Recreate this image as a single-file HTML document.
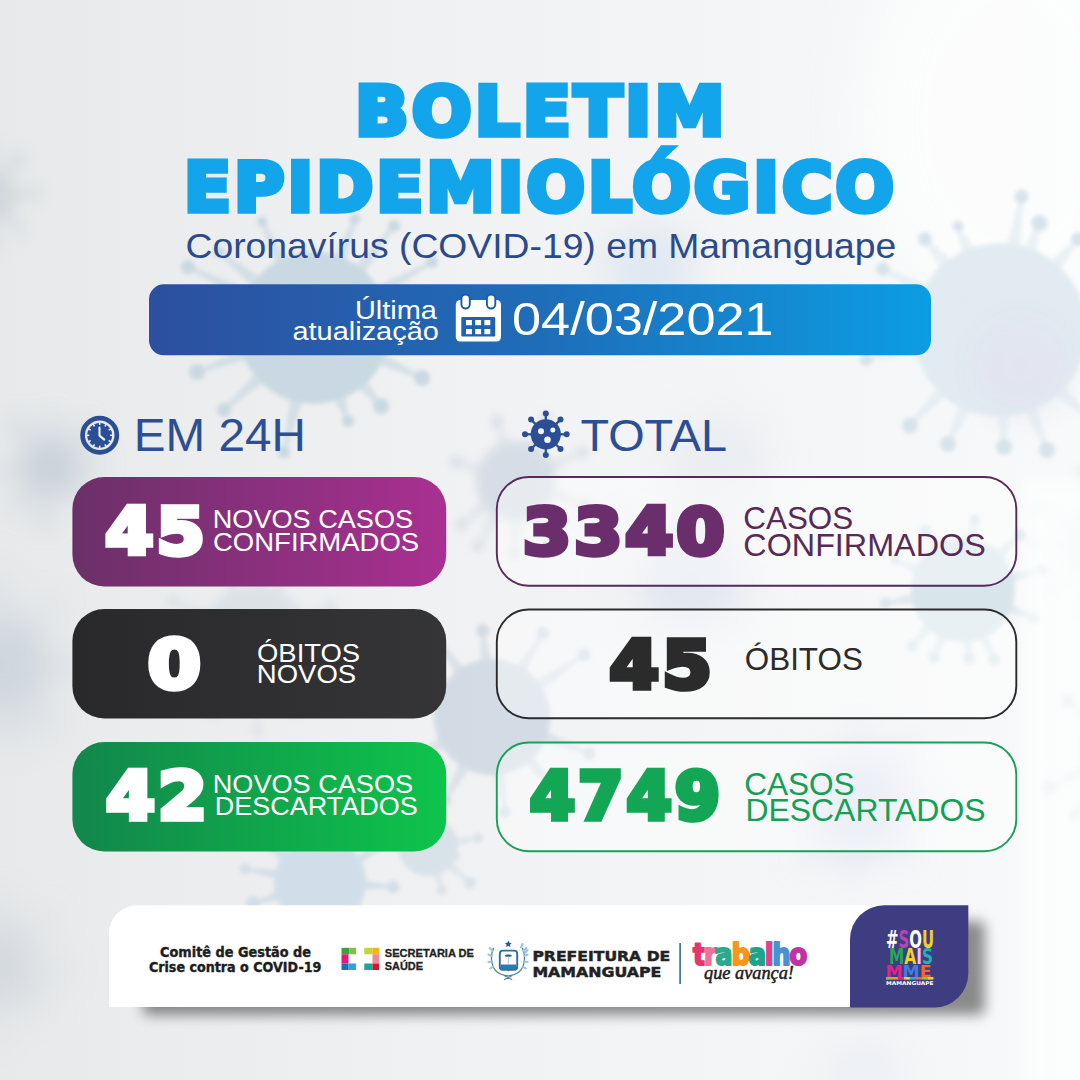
<!DOCTYPE html>
<html lang="pt-BR">
<head>
<meta charset="utf-8">
<title>Boletim Epidemiológico - Mamanguape</title>
<style>
html,body{margin:0;padding:0;background:#eef0f1;}
body{width:1080px;height:1080px;overflow:hidden;font-family:"Liberation Sans",sans-serif;}
svg{display:block}
</style>
</head>
<body>
<svg width="1080" height="1080" viewBox="0 0 1080 1080">
<defs>
<linearGradient id="bg" x1="0" y1="0" x2="1" y2="0"><stop offset="0" stop-color="#e7e9ea"/><stop offset="0.45" stop-color="#f1f2f3"/><stop offset="1" stop-color="#f8f9fa"/></linearGradient>
<linearGradient id="gdate" x1="0" y1="0" x2="1" y2="0"><stop offset="0" stop-color="#2c4f9f"/><stop offset="0.5" stop-color="#1f6db9"/><stop offset="1" stop-color="#0c9de2"/></linearGradient>
<linearGradient id="gpur" x1="0" y1="0" x2="1" y2="0"><stop offset="0" stop-color="#6b3068"/><stop offset="1" stop-color="#a93091"/></linearGradient>
<linearGradient id="gblk" x1="0" y1="0" x2="1" y2="0"><stop offset="0" stop-color="#29292b"/><stop offset="1" stop-color="#353537"/></linearGradient>
<linearGradient id="ggrn" x1="0" y1="0" x2="1" y2="0"><stop offset="0" stop-color="#12864b"/><stop offset="1" stop-color="#0ec44b"/></linearGradient>
<linearGradient id="gtrab" gradientUnits="userSpaceOnUse" x1="690" y1="0" x2="810" y2="0"><stop offset="0.0000" stop-color="#e8336d"/><stop offset="0.1167" stop-color="#e8336d"/><stop offset="0.1167" stop-color="#f0709a"/><stop offset="0.2117" stop-color="#f0709a"/><stop offset="0.2117" stop-color="#2aa98c"/><stop offset="0.3458" stop-color="#2aa98c"/><stop offset="0.3458" stop-color="#f7941d"/><stop offset="0.4892" stop-color="#f7941d"/><stop offset="0.4892" stop-color="#1fa38b"/><stop offset="0.6233" stop-color="#1fa38b"/><stop offset="0.6233" stop-color="#e23f8a"/><stop offset="0.6858" stop-color="#e23f8a"/><stop offset="0.6858" stop-color="#4a90d2"/><stop offset="0.8283" stop-color="#4a90d2"/><stop offset="0.8283" stop-color="#c233a1"/><stop offset="1.0000" stop-color="#c233a1"/></linearGradient>
<linearGradient id="gsou" gradientUnits="userSpaceOnUse" x1="884" y1="0" x2="936" y2="0"><stop offset="0.0000" stop-color="#ffffff"/><stop offset="0.2788" stop-color="#ffffff"/><stop offset="0.2788" stop-color="#b545b8"/><stop offset="0.4846" stop-color="#b545b8"/><stop offset="0.4846" stop-color="#ffffff"/><stop offset="0.7288" stop-color="#ffffff"/><stop offset="0.7288" stop-color="#f4d21f"/><stop offset="1.0000" stop-color="#f4d21f"/></linearGradient>
<linearGradient id="gmais" gradientUnits="userSpaceOnUse" x1="884" y1="0" x2="936" y2="0"><stop offset="0.0000" stop-color="#27a65a"/><stop offset="0.3904" stop-color="#27a65a"/><stop offset="0.3904" stop-color="#f4d21f"/><stop offset="0.6192" stop-color="#f4d21f"/><stop offset="0.6192" stop-color="#e9c6ee"/><stop offset="0.7288" stop-color="#e9c6ee"/><stop offset="0.7288" stop-color="#1fb0b8"/><stop offset="1.0000" stop-color="#1fb0b8"/></linearGradient>
<linearGradient id="gmme" gradientUnits="userSpaceOnUse" x1="884" y1="0" x2="936" y2="0"><stop offset="0.0000" stop-color="#e6228a"/><stop offset="0.3577" stop-color="#e6228a"/><stop offset="0.3577" stop-color="#3d7fe0"/><stop offset="0.6865" stop-color="#3d7fe0"/><stop offset="0.6865" stop-color="#f2662a"/><stop offset="1.0000" stop-color="#f2662a"/></linearGradient>
<filter id="b2" x="-30%" y="-30%" width="160%" height="160%"><feGaussianBlur stdDeviation="2"/></filter>
<filter id="b4" x="-30%" y="-30%" width="160%" height="160%"><feGaussianBlur stdDeviation="4"/></filter>
<filter id="b8" x="-40%" y="-40%" width="180%" height="180%"><feGaussianBlur stdDeviation="8"/></filter>
<filter id="b12" x="-50%" y="-50%" width="200%" height="200%"><feGaussianBlur stdDeviation="12"/></filter>
<filter id="b16" x="-50%" y="-50%" width="200%" height="200%"><feGaussianBlur stdDeviation="16"/></filter>
<filter id="b30" x="-80%" y="-80%" width="260%" height="260%"><feGaussianBlur stdDeviation="30"/></filter>
<filter id="sh" x="-20%" y="-50%" width="140%" height="200%"><feGaussianBlur stdDeviation="6.5"/></filter>
</defs>

<g id="background">
<rect width="1080" height="1080" fill="url(#bg)"/>
<g fill="#bcc6cf" opacity="0.5" filter="url(#b8)"><circle cx="-12" cy="196" r="28"/><path d="M13.2 198.2L33.0 194.2L32.9 192.2L12.7 190.6z"/><circle cx="32.9" cy="193.2" r="6.6"/><path d="M2.5 216.7L18.8 229.8L20.2 228.4L8.0 211.5z"/><circle cx="19.5" cy="229.1" r="5.8"/><path d="M-12.9 221.3L-7.5 243.2L-5.5 242.9L-5.3 220.4z"/><circle cx="-6.5" cy="243.1" r="6.3"/><path d="M-31.4 212.3L-44.9 231.9L-43.4 233.2L-25.7 217.3z"/><circle cx="-44.1" cy="232.5" r="6.9"/><path d="M-36.6 190.2L-56.2 191.4L-56.4 193.4L-37.2 197.8z"/><circle cx="-56.3" cy="192.4" r="7.4"/><path d="M-28.6 177.0L-46.3 165.7L-47.6 167.2L-33.5 182.8z"/><circle cx="-46.9" cy="166.5" r="8.0"/><path d="M-8.1 171.0L-10.7 149.4L-12.7 149.4L-15.7 171.0z"/><circle cx="-11.7" cy="149.4" r="7.5"/><path d="M6.7 179.0L18.2 160.3L16.6 159.0L0.8 174.2z"/><circle cx="17.4" cy="159.7" r="7.3"/></g>
<g fill="#bcc8d3" opacity="0.65" filter="url(#b12)"><circle cx="50" cy="467" r="30"/><path d="M77.2 469.1L94.9 465.2L94.8 463.2L76.7 461.5z"/><circle cx="94.8" cy="464.2" r="7.7"/><path d="M68.2 487.3L83.4 496.6L84.7 495.1L73.1 481.5z"/><circle cx="84.0" cy="495.8" r="7.7"/><path d="M43.5 493.5L43.9 517.8L45.9 518.0L51.1 494.2z"/><circle cx="44.9" cy="517.9" r="8.8"/><path d="M29.4 484.8L17.1 503.1L18.6 504.4L35.1 489.8z"/><circle cx="17.9" cy="503.8" r="7.3"/><path d="M22.8 465.3L5.1 469.5L5.3 471.5L23.4 472.9z"/><circle cx="5.2" cy="470.5" r="7.1"/><path d="M35.9 443.7L18.3 426.4L16.8 427.7L30.0 448.5z"/><circle cx="17.5" cy="427.1" r="9.0"/><path d="M55.7 440.3L54.3 421.4L52.3 421.3L48.2 439.8z"/><circle cx="53.3" cy="421.4" r="7.4"/><path d="M72.3 451.3L87.5 433.1L86.2 431.6L67.1 445.7z"/><circle cx="86.8" cy="432.3" r="9.1"/></g>
<g fill="#bfcad5" opacity="0.6" filter="url(#b16)"><circle cx="0" cy="665" r="48"/><path d="M44.8 670.9L73.8 668.4L73.8 666.0L45.1 661.8z"/><circle cx="73.8" cy="667.2" r="10.1"/><path d="M24.7 702.9L45.4 723.2L47.3 721.7L31.8 697.1z"/><circle cx="46.4" cy="722.4" r="10.5"/><path d="M0.5 710.2L6.8 735.4L9.2 735.2L9.6 709.2z"/><circle cx="8.0" cy="735.3" r="10.6"/><path d="M-36.0 692.3L-56.2 715.7L-54.5 717.4L-29.8 699.0z"/><circle cx="-55.4" cy="716.5" r="7.6"/><path d="M-45.0 660.8L-68.3 664.3L-68.3 666.7L-45.0 669.9z"/><circle cx="-68.3" cy="665.5" r="9.2"/><path d="M-28.0 629.5L-44.7 616.9L-46.5 618.6L-34.5 635.8z"/><circle cx="-45.6" cy="617.8" r="8.0"/><path d="M2.2 619.8L-2.8 589.2L-5.2 589.4L-6.9 620.3z"/><circle cx="-4.0" cy="589.3" r="10.0"/><path d="M32.6 633.6L49.1 609.0L47.3 607.4L25.6 627.7z"/><circle cx="48.2" cy="608.2" r="7.7"/></g>
<g fill="#c6ced6" opacity="0.55" filter="url(#b16)"><circle cx="-5" cy="965" r="40"/><path d="M31.6 971.4L58.3 970.5L58.5 968.5L32.2 963.8z"/><circle cx="58.4" cy="969.5" r="8.9"/><path d="M20.1 992.5L35.7 1002.6L37.0 1001.1L25.1 986.8z"/><circle cx="36.4" cy="1001.9" r="9.6"/><path d="M-8.5 1002.0L-5.6 1027.9L-3.6 1027.9L-0.9 1002.0z"/><circle cx="-4.6" cy="1027.9" r="8.5"/><path d="M-35.3 986.6L-49.3 1002.6L-48.0 1004.1L-30.3 992.3z"/><circle cx="-48.7" cy="1003.3" r="10.1"/><path d="M-41.7 959.2L-64.4 960.7L-64.5 962.7L-42.2 966.8z"/><circle cx="-64.4" cy="961.7" r="9.1"/><path d="M-27.2 935.2L-43.0 922.1L-44.5 923.4L-32.8 940.3z"/><circle cx="-43.7" cy="922.7" r="9.2"/><path d="M1.5 928.4L0.2 907.2L-1.8 907.1L-6.1 927.8z"/><circle cx="-0.8" cy="907.1" r="10.1"/><path d="M24.9 942.8L42.7 922.7L41.4 921.2L19.7 937.2z"/><circle cx="42.0" cy="922.0" r="8.4"/></g>
<g fill="#d3dbea" opacity="0.5" filter="url(#b16)"><circle cx="690" cy="580" r="50"/><path d="M737.2 582.8L759.2 578.3L759.1 575.8L736.8 573.3z"/><circle cx="759.1" cy="577.1" r="9.5"/><path d="M723.5 613.3L746.3 627.4L747.8 625.4L729.5 606.0z"/><circle cx="747.0" cy="626.4" r="8.5"/><path d="M690.3 627.2L696.5 652.9L699.0 652.7L699.7 626.2z"/><circle cx="697.8" cy="652.8" r="7.3"/><path d="M653.9 610.5L641.6 628.2L643.4 629.9L660.7 617.1z"/><circle cx="642.5" cy="629.0" r="7.5"/><path d="M642.9 576.1L613.2 580.1L613.2 582.6L643.1 585.6z"/><circle cx="613.2" cy="581.4" r="7.6"/><path d="M657.8 545.5L634.7 530.0L633.1 531.8L651.5 552.6z"/><circle cx="633.9" cy="530.9" r="10.6"/><path d="M695.6 533.1L692.6 508.1L690.1 508.0L686.1 532.9z"/><circle cx="691.3" cy="508.0" r="10.7"/><path d="M723.1 546.3L739.3 520.6L737.3 519.1L715.7 540.4z"/><circle cx="738.3" cy="519.8" r="8.2"/></g>
<g fill="#cdd5ea" opacity="0.55" filter="url(#b16)"><circle cx="860" cy="805" r="50"/><path d="M907.2 806.7L938.2 801.1L938.1 798.6L906.6 797.2z"/><circle cx="938.2" cy="799.9" r="7.7"/><path d="M888.0 843.0L905.0 856.6L906.9 854.9L895.1 836.6z"/><circle cx="906.0" cy="855.7" r="8.1"/><path d="M849.7 851.1L850.4 874.2L852.9 874.5L859.1 852.2z"/><circle cx="851.7" cy="874.4" r="9.5"/><path d="M823.7 835.2L808.3 856.0L810.1 857.7L830.5 841.9z"/><circle cx="809.2" cy="856.8" r="9.0"/><path d="M812.8 803.7L783.3 809.4L783.5 811.9L813.5 813.2z"/><circle cx="783.4" cy="810.7" r="7.5"/><path d="M827.9 770.4L810.0 759.3L808.3 761.2L821.6 777.5z"/><circle cx="809.2" cy="760.3" r="8.2"/><path d="M863.7 757.9L859.5 727.3L857.0 727.4L854.2 758.1z"/><circle cx="858.3" cy="727.4" r="8.6"/><path d="M893.7 771.9L905.9 751.6L904.0 750.0L886.4 765.8z"/><circle cx="905.0" cy="750.8" r="10.8"/></g>
<g fill="#cfdcee" opacity="0.5" filter="url(#b16)"><circle cx="650" cy="270" r="40"/><path d="M687.0 273.5L707.4 270.5L707.3 268.5L687.0 265.9z"/><circle cx="707.4" cy="269.5" r="6.8"/><path d="M670.9 300.8L684.0 312.1L685.5 310.8L676.7 295.9z"/><circle cx="684.7" cy="311.4" r="8.0"/><path d="M642.7 306.5L643.8 324.4L645.8 324.6L650.3 307.2z"/><circle cx="644.8" cy="324.5" r="8.2"/><path d="M620.5 292.7L609.8 306.6L611.2 308.1L625.7 298.2z"/><circle cx="610.5" cy="307.4" r="7.6"/><path d="M613.2 264.4L592.0 266.2L592.0 268.2L612.9 272.0z"/><circle cx="592.0" cy="267.2" r="8.7"/><path d="M624.2 243.2L607.8 232.9L606.5 234.5L619.3 249.0z"/><circle cx="607.2" cy="233.7" r="6.8"/><path d="M653.9 233.0L651.1 207.7L649.1 207.7L646.3 233.0z"/><circle cx="650.1" cy="207.7" r="8.3"/><path d="M680.3 248.5L693.9 232.9L692.6 231.4L675.3 242.8z"/><circle cx="693.2" cy="232.1" r="8.8"/></g>
<g fill="#d6dde8" opacity="0.3" filter="url(#b16)"><circle cx="720" cy="462" r="45"/><path d="M761.9 467.0L782.8 464.2L782.9 462.0L762.1 458.4z"/><circle cx="782.9" cy="463.1" r="8.2"/><path d="M748.9 492.8L769.3 506.3L770.8 504.6L754.5 486.3z"/><circle cx="770.1" cy="505.5" r="9.0"/><path d="M714.2 503.8L716.6 522.4L718.9 522.4L722.7 504.1z"/><circle cx="717.8" cy="522.4" r="8.1"/><path d="M688.4 490.0L677.7 506.3L679.3 507.8L694.7 495.8z"/><circle cx="678.5" cy="507.1" r="9.4"/><path d="M678.8 452.8L661.2 453.8L660.9 456.1L677.8 461.3z"/><circle cx="661.0" cy="454.9" r="9.2"/><path d="M694.1 428.6L677.8 416.0L676.1 417.5L687.9 434.5z"/><circle cx="677.0" cy="416.8" r="7.3"/><path d="M726.0 420.2L723.8 399.0L721.5 398.9L717.5 419.9z"/><circle cx="722.6" cy="398.9" r="8.6"/><path d="M753.7 436.6L765.0 421.9L763.4 420.3L747.9 430.3z"/><circle cx="764.2" cy="421.1" r="8.9"/></g>
<ellipse cx="1010" cy="120" rx="150" ry="200" fill="#ffffff" opacity="0.7" filter="url(#b30)"/>
<g fill="#c3d5e0" opacity="0.85" filter="url(#b2)"><circle cx="314" cy="328" r="76"/><path fill-opacity="0.7" d="M250.9 290.7L188.7 265.6L187.3 268.4L245.6 301.7z"/><circle cx="188" cy="267" r="7" fill="#c3d5e0"/><path fill-opacity="0.7" d="M260.8 277.6L220.0 250.8L218.0 253.2L253.2 287.1z"/><circle cx="219" cy="252" r="5.5" fill="#c3d5e0"/><path fill-opacity="0.7" d="M287.3 259.8L263.4 221.3L260.6 222.7L276.4 265.1z"/><circle cx="262" cy="222" r="5" fill="#c3d5e0"/><path fill-opacity="0.7" d="M345.4 261.8L356.5 219.6L353.5 218.4L334.0 257.5z"/><circle cx="355" cy="219" r="5.5" fill="#c3d5e0"/><path fill-opacity="0.7" d="M363.8 274.3L395.3 227.0L392.7 225.0L354.3 266.8z"/><circle cx="394" cy="226" r="6" fill="#c3d5e0"/><path fill-opacity="0.7" d="M380.7 297.7L432.8 263.4L431.2 260.6L374.7 287.1z"/><circle cx="432" cy="262" r="6" fill="#c3d5e0"/><path fill-opacity="0.7" d="M243.5 348.0L196.4 370.5L197.6 373.5L247.8 359.4z"/><circle cx="197" cy="372" r="8" fill="#c3d5e0"/><path fill-opacity="0.7" d="M255.9 372.7L222.9 408.8L225.1 411.2L264.1 381.7z"/><circle cx="224" cy="410" r="7" fill="#c3d5e0"/><path fill-opacity="0.7" d="M290.9 397.5L282.4 451.6L285.6 452.4L302.7 400.4z"/><circle cx="284" cy="452" r="6" fill="#c3d5e0"/><path fill-opacity="0.7" d="M333.4 398.6L346.5 421.5L349.5 420.5L344.8 394.5z"/><circle cx="348" cy="421" r="6" fill="#c3d5e0"/><path fill-opacity="0.7" d="M357.0 387.3L379.8 407.0L382.2 405.0L366.2 379.4z"/><circle cx="381" cy="406" r="8" fill="#c3d5e0"/><path fill-opacity="0.7" d="M377.7 364.2L421.3 379.5L422.7 376.5L382.8 353.2z"/><circle cx="422" cy="378" r="8" fill="#c3d5e0"/><path fill-opacity="0.7" d="M387.3 328.1L436.1 319.6L435.9 316.4L386.3 316.0z"/><circle cx="436" cy="318" r="6" fill="#c3d5e0"/></g>
<g fill="#ccd5e1" opacity="0.7" filter="url(#b4)"><circle cx="516" cy="481" r="40"/><path fill-opacity="0.7" d="M482.2 465.1L456.4 460.8L455.6 463.2L479.2 474.5z"/><circle cx="456" cy="462" r="6" fill="#ccd5e1"/><path fill-opacity="0.7" d="M509.5 444.2L498.2 420.6L495.8 421.4L500.1 447.2z"/><circle cx="497" cy="421" r="6" fill="#ccd5e1"/><path fill-opacity="0.7" d="M483.9 500.1L460.2 523.6L461.8 525.6L490.1 507.9z"/><circle cx="461" cy="524.6" r="5.5" fill="#ccd5e1"/><path fill-opacity="0.7" d="M493.1 510.4L476.9 545.3L479.1 546.7L501.6 515.4z"/><circle cx="478" cy="546" r="5.5" fill="#ccd5e1"/><path fill-opacity="0.7" d="M536.0 449.5L546.2 418.5L543.8 417.5L527.0 445.3z"/><circle cx="545" cy="418" r="5.5" fill="#ccd5e1"/><path fill-opacity="0.7" d="M551.9 470.6L582.5 453.2L581.5 450.8L547.9 461.6z"/><circle cx="582" cy="452" r="5.5" fill="#ccd5e1"/><path fill-opacity="0.7" d="M549.3 497.8L584.6 506.2L585.4 503.8L552.6 488.5z"/><circle cx="585" cy="505" r="5.5" fill="#ccd5e1"/><path fill-opacity="0.7" d="M529.0 516.0L548.9 545.6L551.1 544.4L537.7 511.4z"/><circle cx="550" cy="545" r="5.5" fill="#ccd5e1"/><path fill-opacity="0.7" d="M510.6 517.9L513.7 555.0L516.3 555.0L520.4 518.1z"/><circle cx="515" cy="555" r="5" fill="#ccd5e1"/></g>
<g fill="#e0ebf1" opacity="0.95" filter="url(#b2)"><circle cx="1000" cy="330" r="87"/><path fill-opacity="0.7" d="M951.9 260.8L926.4 237.9L923.6 240.1L941.3 269.5z"/><circle cx="925" cy="239" r="7" fill="#d6e2ea"/><path fill-opacity="0.7" d="M974.9 249.6L959.7 225.3L956.3 226.7L962.2 254.7z"/><circle cx="958" cy="226" r="5.5" fill="#d6e2ea"/><path fill-opacity="0.7" d="M1020.1 248.2L1023.3 196.8L1019.7 196.2L1006.6 246.0z"/><circle cx="1021.5" cy="196.5" r="7" fill="#d6e2ea"/><path fill-opacity="0.7" d="M1035.5 253.6L1041.2 223.6L1037.8 222.4L1022.7 248.8z"/><circle cx="1039.5" cy="223" r="8" fill="#d6e2ea"/><path fill-opacity="0.7" d="M1059.9 270.7L1079.4 240.2L1076.6 237.8L1049.5 261.8z"/><circle cx="1078" cy="239" r="7" fill="#d6e2ea"/><path fill-opacity="0.7" d="M928.7 285.1L883.8 267.4L882.2 270.6L922.4 297.2z"/><circle cx="883" cy="269" r="7" fill="#d6e2ea"/><path fill-opacity="0.7" d="M916.5 341.4L865.6 357.7L866.4 361.3L919.4 354.7z"/><circle cx="866" cy="359.5" r="6.5" fill="#d6e2ea"/><path fill-opacity="0.7" d="M937.4 386.4L908.7 424.3L911.3 426.7L947.4 395.8z"/><circle cx="910" cy="425.5" r="8" fill="#d6e2ea"/><path fill-opacity="0.7" d="M958.9 403.6L946.4 443.3L949.6 444.7L971.4 409.3z"/><circle cx="948" cy="444" r="8" fill="#d6e2ea"/><path fill-opacity="0.7" d="M996.0 414.2L1002.2 447.1L1005.8 446.9L1009.7 413.7z"/><circle cx="1004" cy="447" r="8" fill="#d6e2ea"/><path fill-opacity="0.7" d="M1024.3 410.7L1045.3 450.7L1048.7 449.3L1037.0 405.7z"/><circle cx="1047" cy="450" r="8" fill="#d6e2ea"/><path fill-opacity="0.7" d="M1054.6 394.2L1088.7 421.3L1091.3 418.7L1064.2 384.6z"/><circle cx="1090" cy="420" r="7" fill="#d6e2ea"/><circle cx="1020" cy="365" r="50" fill="#e2e0f0" opacity="0.6" filter="url(#b16)"/></g>
<g fill="#d3e3e9" opacity="0.85" filter="url(#b2)"><circle cx="963" cy="590" r="52"/><path fill-opacity="0.7" d="M913.8 592.9L885.3 601.6L885.7 604.4L915.6 603.4z"/><circle cx="885.5" cy="603" r="5.5" fill="#d3e3e9"/><path fill-opacity="0.7" d="M926.1 622.6L911.0 645.1L913.0 646.9L933.9 629.8z"/><circle cx="912" cy="646" r="6" fill="#d3e3e9"/><path fill-opacity="0.7" d="M938.7 632.9L932.7 656.4L935.3 657.6L948.4 637.1z"/><circle cx="934" cy="657" r="6" fill="#d3e3e9"/><path fill-opacity="0.7" d="M962.0 639.3L967.6 658.1L970.4 657.9L972.6 638.3z"/><circle cx="969" cy="658" r="6" fill="#d3e3e9"/><path fill-opacity="0.7" d="M978.1 636.9L992.7 660.1L995.3 658.9L987.8 632.6z"/><circle cx="994" cy="659.5" r="6" fill="#d3e3e9"/><path fill-opacity="0.7" d="M1006.6 612.9L1033.5 619.3L1034.5 616.7L1010.5 603.0z"/><circle cx="1034" cy="618" r="6" fill="#d3e3e9"/><path fill-opacity="0.7" d="M1011.8 583.2L1042.8 571.4L1042.2 568.6L1009.2 572.9z"/><circle cx="1042.5" cy="570" r="6" fill="#d3e3e9"/><path fill-opacity="0.7" d="M1002.0 559.8L1021.0 536.0L1019.0 534.0L994.6 552.1z"/><circle cx="1020" cy="535" r="6" fill="#d3e3e9"/><path fill-opacity="0.7" d="M976.5 542.6L976.4 520.2L973.6 519.8L966.0 540.8z"/><circle cx="975" cy="520" r="5.5" fill="#d3e3e9"/><path fill-opacity="0.7" d="M941.3 545.8L926.2 529.3L923.8 530.7L932.3 551.5z"/><circle cx="925" cy="530" r="5.5" fill="#d3e3e9"/><path fill-opacity="0.7" d="M920.3 565.4L895.6 558.7L894.4 561.3L916.0 575.1z"/><circle cx="895" cy="560" r="5" fill="#d3e3e9"/></g>
<g fill="#c9d4e0" opacity="0.75" filter="url(#b2)"><circle cx="492" cy="717" r="58"/><path fill-opacity="0.7" d="M491.7 661.7L484.1 630.4L481.1 630.8L480.4 662.9z"/><circle cx="482.6" cy="630.6" r="6.5" fill="#c9d4e0"/><path fill-opacity="0.7" d="M525.4 672.9L544.3 633.8L541.7 632.2L515.7 667.0z"/><circle cx="543" cy="633" r="6.5" fill="#c9d4e0"/><path fill-opacity="0.7" d="M540.7 690.9L584.8 655.9L583.2 653.5L534.3 681.4z"/><circle cx="584" cy="654.7" r="6.5" fill="#c9d4e0"/><path fill-opacity="0.7" d="M541.5 741.7L588.5 754.9L589.5 752.1L545.5 731.0z"/><circle cx="589" cy="753.5" r="6.5" fill="#c9d4e0"/><path fill-opacity="0.7" d="M523.8 762.2L558.9 796.0L561.1 794.0L532.4 754.7z"/><circle cx="560" cy="795" r="6" fill="#c9d4e0"/><path fill-opacity="0.7" d="M493.8 772.3L503.5 812.2L506.5 811.8L505.1 770.7z"/><circle cx="505" cy="812" r="6" fill="#c9d4e0"/><path fill-opacity="0.7" d="M465.1 668.7L439.2 639.1L436.8 640.9L455.8 675.2z"/><circle cx="438" cy="640" r="6" fill="#c9d4e0"/><path fill-opacity="0.7" d="M441.2 695.3L405.4 688.6L404.6 691.4L437.8 706.1z"/><circle cx="405" cy="690" r="6" fill="#c9d4e0"/><path fill-opacity="0.7" d="M440.6 737.5L409.3 758.7L410.7 761.3L445.9 747.6z"/><circle cx="410" cy="760" r="6" fill="#c9d4e0"/><path fill-opacity="0.7" d="M459.9 762.1L443.7 799.3L446.3 800.7L469.9 767.7z"/><circle cx="445" cy="800" r="6" fill="#c9d4e0"/></g>
<g fill="#cddce8" opacity="0.85" filter="url(#b2)"><circle cx="320" cy="882" r="46"/><path d="M362.6 889.2L393.2 888.1L393.4 885.8L363.2 880.5z"/><circle cx="393.3" cy="886.9" r="6.3"/><path d="M352.7 910.2L378.8 924.5L380.1 922.7L357.7 903.1z"/><circle cx="379.4" cy="923.6" r="6.9"/><path d="M336.0 922.1L354.0 949.5L356.0 948.4L343.8 918.1z"/><circle cx="355.0" cy="949.0" r="5.2"/><path d="M313.4 924.7L315.1 953.4L317.4 953.5L322.1 925.2z"/><circle cx="316.2" cy="953.4" r="5.6"/><path d="M289.5 912.6L274.2 936.5L276.0 938.0L296.3 918.1z"/><circle cx="275.1" cy="937.3" r="7.3"/><path d="M277.8 891.1L252.7 902.7L253.4 904.9L280.5 899.4z"/><circle cx="253.0" cy="903.8" r="7.5"/><path d="M278.4 870.3L245.3 867.7L244.9 870.0L276.9 878.9z"/><circle cx="245.1" cy="868.9" r="5.3"/><path d="M287.3 853.7L259.0 837.6L257.6 839.5L282.3 860.8z"/><circle cx="258.3" cy="838.6" r="6.0"/><path d="M303.6 842.0L287.5 818.6L285.5 819.7L295.9 846.1z"/><circle cx="286.5" cy="819.2" r="5.9"/><path d="M331.5 840.3L333.2 811.5L330.9 811.1L322.9 838.9z"/><circle cx="332.1" cy="811.3" r="6.3"/><path d="M349.8 850.6L369.7 819.6L367.9 818.2L342.8 845.3z"/><circle cx="368.8" cy="818.9" r="6.0"/><path d="M359.3 863.9L389.6 842.3L388.4 840.3L354.8 856.4z"/><circle cx="389.0" cy="841.3" r="7.4"/></g>
<g fill="#cfd8e0" opacity="0.5" filter="url(#b4)"><circle cx="255" cy="640" r="55"/><path d="M307.0 645.5L347.2 641.9L347.2 639.1L307.0 635.0z"/><circle cx="347.2" cy="640.5" r="7.1"/><path d="M298.9 668.3L335.9 682.9L337.1 680.5L303.7 659.0z"/><circle cx="336.5" cy="681.7" r="6.5"/><path d="M274.6 688.4L291.6 712.5L294.1 711.2L283.9 683.6z"/><circle cx="292.9" cy="711.9" r="4.9"/><path d="M251.2 692.1L256.2 731.3L258.9 731.2L261.7 691.8z"/><circle cx="257.5" cy="731.2" r="5.4"/><path d="M224.5 682.4L211.5 712.5L213.9 713.9L233.5 687.6z"/><circle cx="212.7" cy="713.2" r="6.8"/><path d="M205.3 656.3L176.0 673.5L177.1 676.0L209.6 665.8z"/><circle cx="176.5" cy="674.7" r="7.2"/><path d="M202.7 640.3L163.1 648.3L163.4 651.0L203.8 650.6z"/><circle cx="163.2" cy="649.7" r="6.9"/><path d="M210.2 613.1L173.6 600.2L172.4 602.7L205.7 622.6z"/><circle cx="173.0" cy="601.4" r="6.1"/><path d="M238.8 590.3L222.9 563.6L220.4 564.8L229.3 594.5z"/><circle cx="221.7" cy="564.2" r="6.1"/><path d="M265.0 588.7L264.6 550.9L261.8 550.7L254.6 587.7z"/><circle cx="263.2" cy="550.8" r="5.5"/><path d="M281.1 594.7L295.0 554.6L292.5 553.5L271.6 590.4z"/><circle cx="293.7" cy="554.0" r="5.9"/><path d="M304.9 624.3L330.7 609.1L329.6 606.6L300.7 614.7z"/><circle cx="330.1" cy="607.8" r="6.7"/></g>
<g fill="#d0dce6" opacity="0.7" filter="url(#b2)"><circle cx="428" cy="846" r="30"/><path fill-opacity="0.7" d="M451.7 859.7L454.6 857.1L455.4 854.9L454.9 851.1z"/><circle cx="455" cy="856" r="5" fill="#d0dce6"/><path fill-opacity="0.7" d="M445.2 867.3L469.2 883.9L470.8 882.1L451.3 860.4z"/><circle cx="470" cy="883" r="6" fill="#d0dce6"/><path fill-opacity="0.7" d="M431.8 873.1L440.9 890.4L443.1 889.6L440.5 870.3z"/><circle cx="442" cy="890" r="5" fill="#d0dce6"/><path fill-opacity="0.7" d="M455.4 846.2L478.2 839.2L477.8 836.8L453.9 837.2z"/><circle cx="478" cy="838" r="5" fill="#d0dce6"/></g>
<g fill="#d6deea" opacity="0.25" filter="url(#b16)"><circle cx="865" cy="1075" r="40"/><path d="M902.2 1075.8L927.1 1071.0L926.9 1069.0L901.6 1068.2z"/><circle cx="927.0" cy="1070.0" r="8.4"/><path d="M888.6 1103.7L905.2 1116.2L906.6 1114.8L894.0 1098.3z"/><circle cx="905.9" cy="1115.5" r="8.9"/><path d="M858.5 1111.6L859.5 1135.2L861.5 1135.4L866.1 1112.2z"/><circle cx="860.5" cy="1135.3" r="8.0"/><path d="M837.7 1100.3L827.6 1115.9L829.1 1117.3L843.4 1105.3z"/><circle cx="828.4" cy="1116.6" r="7.6"/><path d="M828.1 1070.4L808.9 1072.9L808.9 1074.9L827.9 1078.0z"/><circle cx="808.9" cy="1073.9" r="8.9"/><path d="M839.7 1047.7L822.3 1036.2L821.0 1037.7L834.7 1053.4z"/><circle cx="821.7" cy="1036.9" r="6.5"/><path d="M873.2 1038.7L873.5 1012.9L871.5 1012.6L865.6 1037.8z"/><circle cx="872.5" cy="1012.7" r="9.2"/><path d="M894.5 1052.3L906.2 1037.4L904.8 1036.0L889.3 1046.8z"/><circle cx="905.5" cy="1036.7" r="7.5"/></g>
<g fill="#d6e2ea" opacity="0.8" filter="url(#b2)"><circle cx="1122" cy="750" r="42"/><path fill-opacity="0.7" d="M1096.9 719.6L1069.0 699.9L1067.0 702.1L1089.3 728.0z"/><circle cx="1068" cy="701" r="8" fill="#d6e2ea"/><path fill-opacity="0.7" d="M1084.8 763.0L1049.3 786.2L1050.7 788.8L1090.0 773.1z"/><circle cx="1050" cy="787.5" r="7.5" fill="#d6e2ea"/><path fill-opacity="0.7" d="M1094.5 778.3L1073.8 814.1L1076.2 815.9L1103.8 784.9z"/><circle cx="1075" cy="815" r="6" fill="#d6e2ea"/></g>
<g fill="#dbe4ec" opacity="0.4" filter="url(#b4)"><circle cx="1100" cy="545" r="38"/><path d="M1134.8 550.3L1174.8 549.2L1174.8 547.2L1135.1 542.7z"/><circle cx="1174.8" cy="548.2" r="7.1"/><path d="M1126.0 568.7L1154.9 586.3L1156.1 584.7L1130.5 562.6z"/><circle cx="1155.5" cy="585.5" r="8.4"/><path d="M1108.9 579.1L1122.2 605.9L1124.1 605.2L1116.0 576.3z"/><circle cx="1123.1" cy="605.6" r="6.3"/><path d="M1087.4 577.9L1081.9 610.2L1083.8 610.7L1094.8 579.8z"/><circle cx="1082.8" cy="610.4" r="6.4"/><path d="M1071.2 565.3L1048.6 589.0L1049.9 590.5L1076.3 571.0z"/><circle cx="1049.3" cy="589.7" r="6.5"/><path d="M1065.1 540.6L1034.3 542.9L1034.3 544.9L1064.9 548.2z"/><circle cx="1034.3" cy="543.9" r="5.8"/><path d="M1072.3 523.3L1040.2 506.6L1039.2 508.3L1068.3 529.7z"/><circle cx="1039.7" cy="507.4" r="6.7"/><path d="M1094.7 510.2L1081.8 472.1L1079.9 472.6L1087.4 512.1z"/><circle cx="1080.8" cy="472.3" r="6.8"/><path d="M1111.3 511.7L1117.0 473.0L1115.0 472.6L1103.9 510.0z"/><circle cx="1116.0" cy="472.8" r="7.7"/><path d="M1130.1 526.7L1158.5 501.5L1157.3 499.9L1125.5 520.7z"/><circle cx="1157.9" cy="500.7" r="6.4"/></g>
<rect x="1024" y="480" width="90" height="640" fill="#ffffff" opacity="0.7" filter="url(#b8)"/>
</g>
<g id="header">
<text x="355.0" y="135.25" font-family="DejaVu Sans, sans-serif" font-size="67.9" textLength="372.58" lengthAdjust="spacingAndGlyphs" fill="#12a5ec" font-weight="bold" stroke="#12a5ec" stroke-width="5.5" stroke-linejoin="miter" letter-spacing="3" >BOLETIM</text>
<text x="184.0" y="211.25" font-family="DejaVu Sans, sans-serif" font-size="67.35" textLength="713.04" lengthAdjust="spacingAndGlyphs" fill="#12a5ec" font-weight="bold" stroke="#12a5ec" stroke-width="5.5" stroke-linejoin="miter" letter-spacing="3" >EPIDEMIOLÓGICO</text>
<text x="185.5" y="258.0" font-family="Liberation Sans, sans-serif" font-size="35.32" textLength="710.85" lengthAdjust="spacingAndGlyphs" fill="#2b4a8b" >Coronavírus (COVID-19) em Mamanguape</text>
</g>
<g id="date-bar">
<rect x="149" y="284.3" width="782" height="71" rx="15" fill="url(#gdate)"/>
<text x="355.0" y="319.0" font-family="Liberation Sans, sans-serif" font-size="26" textLength="81.86" lengthAdjust="spacingAndGlyphs" fill="#fff" >Última</text>
<text x="292.5" y="340.0" font-family="Liberation Sans, sans-serif" font-size="26" textLength="146.33" lengthAdjust="spacingAndGlyphs" fill="#fff" >atualização</text>
<g id="calendar">
<rect x="455.8" y="300" width="45.2" height="41.6" rx="4.5" fill="#fff"/>
<rect x="461.3" y="316.9" width="33.9" height="19.7" rx="0.8" fill="#1f62ae"/>
<rect x="461.4" y="294.5" width="8.4" height="14" rx="4.2" fill="#fff" stroke="#1d58a2" stroke-width="1.9"/>
<rect x="486.9" y="294.5" width="8.4" height="14" rx="4.2" fill="#fff" stroke="#1b5da8" stroke-width="1.9"/>
<g fill="#fff"><rect x="466" y="320" width="5.9" height="5.2"/><rect x="475.2" y="320" width="5.9" height="5.2"/><rect x="484.4" y="320" width="5.9" height="5.2"/>
<rect x="466" y="329" width="5.9" height="5.2"/><rect x="475.2" y="329" width="5.9" height="5.2"/><rect x="484.4" y="329" width="5.9" height="5.2"/></g>
</g>
<text x="512.0" y="334.8" font-family="Liberation Sans, sans-serif" font-size="45.78" textLength="261.64" lengthAdjust="spacingAndGlyphs" fill="#fff" >04/03/2021</text>
</g>
<g id="section-24h">
<g id="clock"><circle cx="99.7" cy="435.3" r="17.15" fill="none" stroke="#2c4e95" stroke-width="4.7"/><circle cx="99.7" cy="435.3" r="12.4" fill="#2c4e95"/>
<g stroke="#eef0f2" stroke-width="1.5"><line x1="110.10" y1="435.30" x2="112.70" y2="435.30"/><line x1="108.71" y1="440.50" x2="110.96" y2="441.80"/><line x1="104.90" y1="444.31" x2="106.20" y2="446.56"/><line x1="99.70" y1="445.70" x2="99.70" y2="448.30"/><line x1="94.50" y1="444.31" x2="93.20" y2="446.56"/><line x1="90.69" y1="440.50" x2="88.44" y2="441.80"/><line x1="89.30" y1="435.30" x2="86.70" y2="435.30"/><line x1="90.69" y1="430.10" x2="88.44" y2="428.80"/><line x1="94.50" y1="426.29" x2="93.20" y2="424.04"/><line x1="99.70" y1="424.90" x2="99.70" y2="422.30"/><line x1="104.90" y1="426.29" x2="106.20" y2="424.04"/><line x1="108.71" y1="430.10" x2="110.96" y2="428.80"/></g>
<path d="M99.5 427.6V435.6L104.3 439.6" fill="none" stroke="#f2f4f6" stroke-width="2.1" stroke-linecap="round" stroke-linejoin="round"/></g>
<text x="133.8" y="450.6" font-family="Liberation Sans, sans-serif" font-size="45.35" textLength="171.99" lengthAdjust="spacingAndGlyphs" fill="#2c4e95" >EM 24H</text>
</g>
<g id="section-total">
<g id="virus-icon" fill="#2c4e95"><circle cx="545.8" cy="434.3" r="15.1"/><line x1="545.8" y1="434.3" x2="545.8" y2="455.1" stroke="#2c4e95" stroke-width="2.3"/><circle cx="545.8" cy="455.1" r="3"/><line x1="545.8" y1="434.3" x2="531.1" y2="449.0" stroke="#2c4e95" stroke-width="2.3"/><circle cx="531.1" cy="449.0" r="3"/><line x1="545.8" y1="434.3" x2="525.0" y2="434.3" stroke="#2c4e95" stroke-width="2.3"/><circle cx="525.0" cy="434.3" r="3"/><line x1="545.8" y1="434.3" x2="531.1" y2="419.6" stroke="#2c4e95" stroke-width="2.3"/><circle cx="531.1" cy="419.6" r="3"/><line x1="545.8" y1="434.3" x2="545.8" y2="413.5" stroke="#2c4e95" stroke-width="2.3"/><circle cx="545.8" cy="413.5" r="3"/><line x1="545.8" y1="434.3" x2="560.5" y2="419.6" stroke="#2c4e95" stroke-width="2.3"/><circle cx="560.5" cy="419.6" r="3"/><line x1="545.8" y1="434.3" x2="566.6" y2="434.3" stroke="#2c4e95" stroke-width="2.3"/><circle cx="566.6" cy="434.3" r="3"/><line x1="545.8" y1="434.3" x2="560.5" y2="449.0" stroke="#2c4e95" stroke-width="2.3"/><circle cx="560.5" cy="449.0" r="3"/><circle cx="541" cy="431.2" r="3" fill="#f4f6f8"/><circle cx="552.8" cy="430" r="2.5" fill="#f4f6f8"/><circle cx="547.5" cy="439.8" r="3.3" fill="#f4f6f8"/></g>
<text x="580.4" y="450.8" font-family="Liberation Sans, sans-serif" font-size="44.77" textLength="146.64" lengthAdjust="spacingAndGlyphs" fill="#2c4e95" >TOTAL</text>
</g>
<g id="cards-24h">
<rect x="72.4" y="477" width="373.8" height="109.5" rx="32" fill="url(#gpur)"/>
<text x="105.2" y="554.05" font-family="DejaVu Sans, sans-serif" font-size="64.2" textLength="102.77" lengthAdjust="spacingAndGlyphs" fill="#fff" font-weight="bold" stroke="#fff" stroke-width="5.5" stroke-linejoin="miter" letter-spacing="3" >45</text>
<text x="212.8" y="527.9" font-family="Liberation Sans, sans-serif" font-size="26.16" textLength="200.23" lengthAdjust="spacingAndGlyphs" fill="#fff" >NOVOS CASOS</text>
<text x="213.0" y="550.6" font-family="Liberation Sans, sans-serif" font-size="26.16" textLength="206.18" lengthAdjust="spacingAndGlyphs" fill="#fff" >CONFIRMADOS</text>
<rect x="72.4" y="609" width="373.8" height="109.5" rx="32" fill="url(#gblk)"/>
<text x="147.7" y="687.85" font-family="DejaVu Sans, sans-serif" font-size="67.63" textLength="56.48" lengthAdjust="spacingAndGlyphs" fill="#fff" font-weight="bold" stroke="#fff" stroke-width="5.5" stroke-linejoin="miter" letter-spacing="3" >0</text>
<text x="257.0" y="661.8" font-family="Liberation Sans, sans-serif" font-size="25.58" textLength="103.15" lengthAdjust="spacingAndGlyphs" fill="#fff" >ÓBITOS</text>
<text x="256.8" y="683.4" font-family="Liberation Sans, sans-serif" font-size="25.44" textLength="99.43" lengthAdjust="spacingAndGlyphs" fill="#fff" >NOVOS</text>
<rect x="72.4" y="742" width="373.8" height="109.5" rx="32" fill="url(#ggrn)"/>
<text x="106.0" y="819.45" font-family="DejaVu Sans, sans-serif" font-size="65.71" textLength="104.22" lengthAdjust="spacingAndGlyphs" fill="#fff" font-weight="bold" stroke="#fff" stroke-width="5.5" stroke-linejoin="miter" letter-spacing="3" >42</text>
<text x="212.8" y="793.3" font-family="Liberation Sans, sans-serif" font-size="25.73" textLength="200.24" lengthAdjust="spacingAndGlyphs" fill="#fff" >NOVOS CASOS</text>
<text x="214.8" y="815.1" font-family="Liberation Sans, sans-serif" font-size="25.87" textLength="203.02" lengthAdjust="spacingAndGlyphs" fill="#fff" >DESCARTADOS</text>
</g>
<g id="cards-total">
<rect x="496.8" y="477" width="519.5" height="108.7" rx="32" fill="#ffffff" fill-opacity="0.42" stroke="#572a58" stroke-width="1.9"/>
<text x="523.0" y="553.5" font-family="DejaVu Sans, sans-serif" font-size="64.47" textLength="204.61" lengthAdjust="spacingAndGlyphs" fill="#6a2e6c" font-weight="bold" stroke="#6a2e6c" stroke-width="5.5" stroke-linejoin="miter" letter-spacing="3" >3340</text>
<text x="743.3" y="529.2" font-family="Liberation Sans, sans-serif" font-size="31.4" textLength="109.91" lengthAdjust="spacingAndGlyphs" fill="#572a58" >CASOS</text>
<text x="743.3" y="555.9" font-family="Liberation Sans, sans-serif" font-size="31.4" textLength="242.44" lengthAdjust="spacingAndGlyphs" fill="#572a58" >CONFIRMADOS</text>
<rect x="496.8" y="609.5" width="519.5" height="108.7" rx="32" fill="#ffffff" fill-opacity="0.42" stroke="#2b2b2c" stroke-width="1.9"/>
<text x="609.6" y="687.75" font-family="DejaVu Sans, sans-serif" font-size="65.57" textLength="105.5" lengthAdjust="spacingAndGlyphs" fill="#2b2b2c" font-weight="bold" stroke="#2b2b2c" stroke-width="5.5" stroke-linejoin="miter" letter-spacing="3" >45</text>
<text x="744.8" y="670.1" font-family="Liberation Sans, sans-serif" font-size="31.1" textLength="118.04" lengthAdjust="spacingAndGlyphs" fill="#2b2b2c" >ÓBITOS</text>
<rect x="496.8" y="742.5" width="519.5" height="108.7" rx="32" fill="#ffffff" fill-opacity="0.42" stroke="#1a9f5b" stroke-width="1.9"/>
<text x="529.8" y="819.45" font-family="DejaVu Sans, sans-serif" font-size="66.26" textLength="193.22" lengthAdjust="spacingAndGlyphs" fill="#13a654" font-weight="bold" stroke="#13a654" stroke-width="5.5" stroke-linejoin="miter" letter-spacing="3" >4749</text>
<text x="744.2" y="794.6" font-family="Liberation Sans, sans-serif" font-size="30.81" textLength="110.42" lengthAdjust="spacingAndGlyphs" fill="#14a054" >CASOS</text>
<text x="745.4" y="821.4" font-family="Liberation Sans, sans-serif" font-size="31.4" textLength="240.13" lengthAdjust="spacingAndGlyphs" fill="#14a054" >DESCARTADOS</text>
</g>
<g id="footer">
<rect x="143" y="921" width="842" height="94" rx="6" fill="#000" opacity="0.44" filter="url(#sh)"/>
<path d="M137 905.3H900V1007H109V933.3A28 28 0 0 1 137 905.3z" fill="#fff"/>
<path d="M884 905.3H968.3V973.5A34 34 0 0 1 934.3 1007.5H850V939.3A34 34 0 0 1 884 905.3z" fill="#3e3d82"/>
<text x="160.0" y="956.7" font-family="DejaVu Sans, sans-serif" font-size="13.58" textLength="151.05" lengthAdjust="spacingAndGlyphs" fill="#1d1d1d" font-weight="bold" stroke="#1d1d1d" stroke-width="0.4" stroke-linejoin="miter" >Comitê de Gestão de</text>
<text x="148.9" y="972.3" font-family="DejaVu Sans, sans-serif" font-size="13.58" textLength="172.46" lengthAdjust="spacingAndGlyphs" fill="#1d1d1d" font-weight="bold" stroke="#1d1d1d" stroke-width="0.4" stroke-linejoin="miter" >Crise contra o COVID-19</text>
<g id="logo-saude">
<rect x="341.5" y="947.8" width="8" height="6.5" fill="#3aa535"/><rect x="349.5" y="947.8" width="6.5" height="6.5" fill="#7cc142"/>
<rect x="341.5" y="954.3" width="7" height="9.2" fill="#e6187c"/>
<rect x="341.5" y="963.5" width="7" height="6.5" fill="#1b6fb7"/><rect x="348.5" y="963.5" width="7.5" height="6.5" fill="#28a3dc"/>
<rect x="364.3" y="947.8" width="8.2" height="6.5" fill="#c4d62f"/><rect x="372.5" y="947.8" width="6.5" height="6.5" fill="#f9b21c"/>
<rect x="372.5" y="954.3" width="6.5" height="9.2" fill="#f28b8b"/>
<rect x="364.3" y="963.5" width="8.2" height="6.5" fill="#1aa69a"/><rect x="372.5" y="963.5" width="6.5" height="6.5" fill="#d9132d"/>
</g>
<text x="384.8" y="957.25" font-family="Liberation Sans, sans-serif" font-size="10.76" textLength="89.2" lengthAdjust="spacingAndGlyphs" fill="#222" font-weight="bold" stroke="#222" stroke-width="0.3" stroke-linejoin="miter" >SECRETARIA DE</text>
<text x="384.8" y="970.25" font-family="Liberation Sans, sans-serif" font-size="10.76" textLength="38.25" lengthAdjust="spacingAndGlyphs" fill="#222" font-weight="bold" stroke="#222" stroke-width="0.3" stroke-linejoin="miter" >SAÚDE</text>
<g id="brasao" fill="none" stroke-linecap="round">
<path d="M493.4 948.4C490.300 955 490.800 966.500 496.500 971.500C500.500 974.800 505 975.600 508 975.800M522.600 948.400C525.700 955 525.200 966.500 519.500 971.500C515.500 974.800 511 975.600 508 975.800" stroke="#4d81a3" stroke-width="1.3"/>
<path d="M492.500 951l-2.800-3M491.600 956l-3.200-1.500M491.700 961.500l-3.300.4M493.200 966.500l-3 2M523.500 951l2.800-3M524.400 956l3.200-1.500M524.300 961.500l3.300.4M522.800 966.500l3 2M521 947.500l1.500-3.500M525 953l2.500-3" stroke="#9cc4de" stroke-width="2"/>
<path d="M504.400 979.400L511.800 975.700M511.800 979.400L504.400 975.700" stroke="#4d81a3" stroke-width="1.1"/>
<rect x="499.800" y="950.600" width="17.400" height="19.200" rx="3" fill="#fff" stroke="#2f6f9a" stroke-width="1.9"/>
<path d="M500.600 964.600H516.400V967a2.500 2.500 0 0 1 -2.500 2.500H503.100a2.500 2.500 0 0 1 -2.500-2.500z" fill="#2d78ad" stroke="none"/>
<path d="M506.500 969.300l2 2.300l2-2.300z" fill="#2d78ad" stroke="none"/>
<ellipse cx="508.300" cy="955.700" rx="3.500" ry="1.150" fill="#2a5d85" stroke="none"/>
<path d="M508.300 957v6.500" stroke="#9cb9cc" stroke-width="0.9"/>
<path d="M508.300 940.600l1.050 2.150l2.350.35l-1.700 1.650l.4 2.350l-2.100-1.100l-2.100 1.100l.4-2.350l-1.700-1.650l2.350-.35z" fill="#2a5d85" stroke="none"/>
</g>
<text x="532.4" y="961.05" font-family="DejaVu Sans, sans-serif" font-size="14.95" textLength="137.9" lengthAdjust="spacingAndGlyphs" fill="#222" font-weight="bold" stroke="#222" stroke-width="0.5" stroke-linejoin="miter" >PREFEITURA DE</text>
<text x="532.4" y="976.75" font-family="DejaVu Sans, sans-serif" font-size="14.95" textLength="129.01" lengthAdjust="spacingAndGlyphs" fill="#222" font-weight="bold" stroke="#222" stroke-width="0.5" stroke-linejoin="miter" >MAMANGUAPE</text>
<rect x="679.3" y="943" width="1.6" height="41" fill="#2d6f93"/>
<text x="693.0" y="965.2" font-family="DejaVu Sans, sans-serif" font-size="29.5" textLength="112.83" lengthAdjust="spacingAndGlyphs" fill="url(#gtrab)" font-weight="bold" stroke="url(#gtrab)" stroke-width="2" stroke-linejoin="round" letter-spacing="-1.5" id="trabalho">trabalho</text>
<text x="704.0" y="979.35" font-family="Liberation Serif, serif" font-size="18.5" textLength="89.91" lengthAdjust="spacingAndGlyphs" fill="#1b1b1b" font-style="italic" stroke="#1b1b1b" stroke-width="0.5" stroke-linejoin="miter" >que avança!</text>
<g id="logo-soumais" font-family="DejaVu Sans, sans-serif" font-weight="bold">
<text x="886" y="947.6" font-size="24" textLength="48" lengthAdjust="spacingAndGlyphs" fill="url(#gsou)">#SOU</text>
<text x="889" y="964.3" font-size="20.5" textLength="44" lengthAdjust="spacingAndGlyphs" fill="url(#gmais)">MAIS</text>
<text x="885.5" y="976.6" font-size="15.5" textLength="46" lengthAdjust="spacingAndGlyphs" fill="url(#gmme)">MME</text>
<rect x="886" y="977" width="6" height="2.6" fill="#8bc53f"/><rect x="892" y="977" width="6" height="2.6" fill="#f6921e"/><rect x="898" y="977" width="6" height="2.6" fill="#e6228a"/><rect x="904" y="977" width="6" height="2.6" fill="#f4d21f"/><rect x="910" y="977" width="6" height="2.6" fill="#27a9e1"/><rect x="916" y="977" width="6" height="2.6" fill="#f2662a"/><rect x="922" y="977" width="6" height="2.6" fill="#8bc53f"/><rect x="928" y="977" width="5.5" height="2.6" fill="#f4d21f"/>
<text x="886" y="984.6" font-size="5" fill="#fff" textLength="47.5" lengthAdjust="spacingAndGlyphs">MAMANGUAPE</text>
</g>
</g>
</svg>
</body>
</html>
